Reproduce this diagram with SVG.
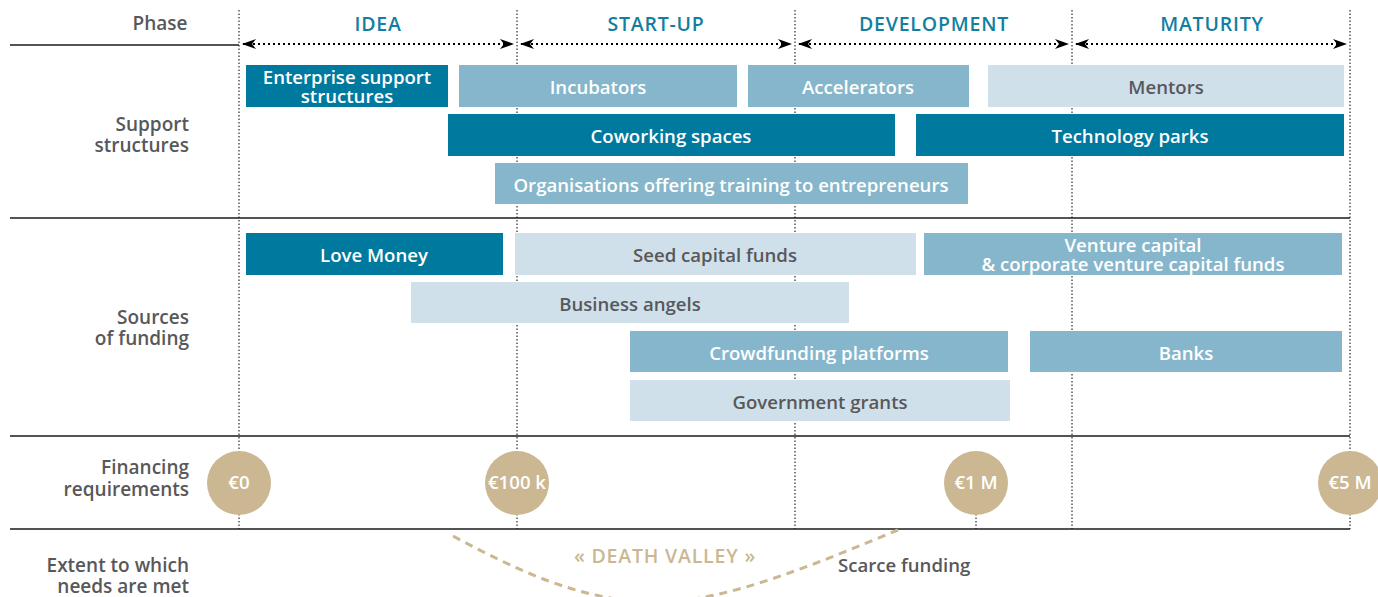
<svg xmlns="http://www.w3.org/2000/svg" width="1378" height="597" viewBox="0 0 1378 597">
<style>
text{font-family:"Open Sans",Lato,"Liberation Sans",sans-serif;font-weight:600;font-size:18.6px}
.lbl{fill:#58585a;text-anchor:end;font-size:19px}
.ph{fill:#127fa2;text-anchor:middle;font-size:19.5px;letter-spacing:0.8px}
.bt{text-anchor:middle}
.w{fill:#ffffff}
.g{fill:#58585a}
.dark{fill:#00799e}
.med{fill:#86b6cb}
.light{fill:#cfe0ea}
.vl{stroke:#000;stroke-width:1;stroke-dasharray:1.5 2;fill:none}
.hl{stroke:#1a1a1a;stroke-width:1.6;fill:none}
.arr{stroke:#000;stroke-width:2;stroke-dasharray:2 3;fill:none;marker-start:url(#ah);marker-end:url(#ah)}
.coin{fill:#cbb893}
.ct{fill:#fff;text-anchor:middle}
</style>
<defs>
<marker id="ah" viewBox="0 0 14 10" refX="13" refY="5" markerWidth="14" markerHeight="10" markerUnits="userSpaceOnUse" orient="auto-start-reverse">
<path d="M0,0 L14,5 L0,10 L4,5 Z" fill="#000"/>
</marker>
</defs>
<rect width="1378" height="597" fill="#fff"/>

<g id="grid">
<line class="vl" x1="239" y1="10" x2="239" y2="529"/>
<line class="vl" x1="517" y1="10" x2="517" y2="529"/>
<line class="vl" x1="795" y1="10" x2="795" y2="529"/>
<line class="vl" x1="1072" y1="10" x2="1072" y2="529"/>
<line class="vl" x1="1350" y1="10" x2="1350" y2="529"/>
<line class="vl" x1="976" y1="500" x2="976" y2="529"/>
<line class="hl" x1="10" y1="45" x2="239" y2="45"/>
<line class="hl" x1="10" y1="218" x2="1350" y2="218"/>
<line class="hl" x1="10" y1="436" x2="1350" y2="436"/>
<line class="hl" x1="10" y1="529" x2="1350" y2="529"/>
</g>

<g id="row-labels">
<text class="lbl" x="160" y="30" style="text-anchor:middle">Phase</text>
<text class="lbl" x="189" y="131">Support</text>
<text class="lbl" x="189" y="152">structures</text>
<text class="lbl" x="189" y="324">Sources</text>
<text class="lbl" x="189" y="345">of funding</text>
<text class="lbl" x="189" y="474">Financing</text>
<text class="lbl" x="189" y="496">requirements</text>
<text class="lbl" x="189" y="572">Extent to which</text>
<text class="lbl" x="189" y="593">needs are met</text>
</g>

<g id="connectors">
<line class="arr" x1="243" y1="44" x2="513" y2="44"/>
<line class="arr" x1="521" y1="44" x2="791" y2="44"/>
<line class="arr" x1="799" y1="44" x2="1068" y2="44"/>
<line class="arr" x1="1076" y1="44" x2="1346" y2="44"/>
</g>

<g id="phases">
<text class="ph" x="378" y="31">IDEA</text>
<text class="ph" x="656" y="31">START-UP</text>
<text class="ph" x="934" y="31">DEVELOPMENT</text>
<text class="ph" x="1212" y="31">MATURITY</text>
</g>

<g id="enterprise-support"><rect class="dark" x="246" y="65" width="202" height="42"/><text class="bt w" x="347" y="84">Enterprise support</text><text class="bt w" x="347" y="103">structures</text></g>
<g id="incubators"><rect class="med" x="459" y="65" width="278" height="42"/><text class="bt w" x="598" y="94">Incubators</text></g>
<g id="accelerators"><rect class="med" x="748" y="65" width="221" height="42"/><text class="bt w" x="858" y="94">Accelerators</text></g>
<g id="mentors"><rect class="light" x="988" y="65" width="356" height="42"/><text class="bt g" x="1166" y="94">Mentors</text></g>
<g id="coworking"><rect class="dark" x="448" y="114" width="447" height="42"/><text class="bt w" x="671" y="143">Coworking spaces</text></g>
<g id="techparks"><rect class="dark" x="916" y="114" width="428" height="42"/><text class="bt w" x="1130" y="143">Technology parks</text></g>
<g id="training"><rect class="med" x="495" y="163" width="473" height="41"/><text class="bt w" x="731" y="192">Organisations offering training to entrepreneurs</text></g>

<g id="love-money"><rect class="dark" x="246" y="233" width="257" height="42"/><text class="bt w" x="374" y="262">Love Money</text></g>
<g id="seed"><rect class="light" x="515" y="233" width="401" height="42"/><text class="bt g" x="715" y="262">Seed capital funds</text></g>
<g id="venture"><rect class="med" x="924" y="233" width="418" height="42"/><text class="bt w" x="1133" y="252">Venture capital</text><text class="bt w" x="1133" y="271">&amp; corporate venture capital funds</text></g>
<g id="angels"><rect class="light" x="411" y="282" width="438" height="41"/><text class="bt g" x="630" y="311">Business angels</text></g>
<g id="crowdfunding"><rect class="med" x="630" y="331" width="378" height="41"/><text class="bt w" x="819" y="360">Crowdfunding platforms</text></g>
<g id="banks"><rect class="med" x="1030" y="331" width="312" height="41"/><text class="bt w" x="1186" y="360">Banks</text></g>
<g id="grants"><rect class="light" x="630" y="380" width="380" height="41"/><text class="bt g" x="820" y="409">Government grants</text></g>

<g id="coin-0"><ellipse class="coin" cx="239" cy="483" rx="32" ry="32"/><text class="ct" x="239" y="489">€0</text></g>
<g id="coin-100k"><ellipse class="coin" cx="517" cy="483" rx="32" ry="32"/><text class="ct" x="517" y="489">€100 k</text></g>
<g id="coin-1m"><ellipse class="coin" cx="976" cy="483" rx="32" ry="32"/><text class="ct" x="976" y="489">€1 M</text></g>
<g id="coin-5m"><ellipse class="coin" cx="1350" cy="483" rx="32" ry="32"/><text class="ct" x="1350" y="489">€5 M</text></g>

<g id="death-valley">
<path d="M453,536 C520,572 580,600 655,603 C730,601 820,562 898,530" fill="none" stroke="#cbb893" stroke-width="3" stroke-dasharray="8 6"/>
<text x="665" y="563" style="fill:#cbb893;text-anchor:middle;font-size:19.5px;letter-spacing:0.8px">« DEATH VALLEY »</text>
<text x="838" y="572" class="g">Scarce funding</text>
</g>
</svg>
